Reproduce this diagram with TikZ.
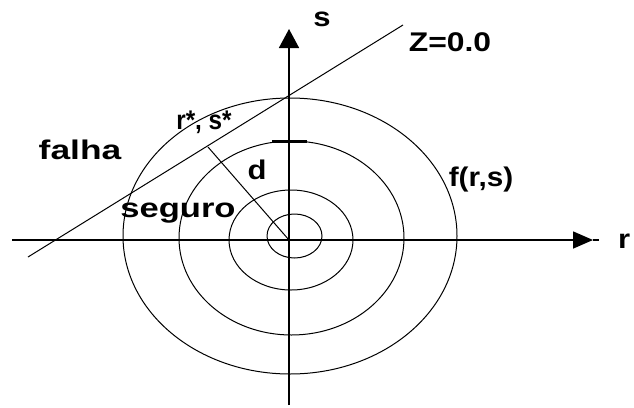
\documentclass[tikz,border=0pt]{standalone}
\usepackage{fontspec}
\setmainfont{Liberation Sans}
\usetikzlibrary{arrows.meta}
\newcommand{\wide}[2]{\scalebox{#1}[1]{#2}}
\begin{document}
\begin{tikzpicture}[x=1pt,y=-1pt,
  axisline/.style={line width=1.6pt},
  thinline/.style={line width=1pt},
  lbl/.style={font=\fontsize{27}{28}\selectfont\bfseries, inner sep=0pt}]
\useasboundingbox (0,0) rectangle (634,407);
% coordinates
\coordinate (O) at (289,240);
\coordinate (rstart) at (12,240);
\coordinate (rtip) at (593,240);
\coordinate (rend) at (599,240);
\coordinate (sbot) at (289,405);
\coordinate (stip) at (289,29);
\coordinate (zA) at (28,257);
\coordinate (zB) at (403,25);
\coordinate (foot) at (208,147);
\coordinate (tickL) at (272,141);
\coordinate (tickR) at (307,141);
% ellipses
\draw[thinline] (294.5,236) ellipse [x radius=27.5, y radius=22];
\draw[thinline] (291,240) ellipse [x radius=62, y radius=50];
\draw[thinline] (291.5,238) ellipse [x radius=112.5, y radius=97];
\draw[thinline] (290,236) ellipse [x radius=167, y radius=138];
% axes
\draw[axisline,-{Triangle[length=20pt,width=17pt]}] (rstart) -- (rtip);
\draw[axisline] (rtip) -- (rend);
\draw[axisline,-{Triangle[length=19pt,width=20pt]}] (sbot) -- (stip);
\draw[line width=3pt] (tickL) -- (tickR);
% limit state line and distance
\draw[thinline] (zA) -- (zB);
\draw[thinline] (O) -- (foot);
% labels
\node[lbl] (ls) at (322,19) {\wide{1.15}{s}};
\node[lbl, anchor=west] (lr) at (618,241) {\wide{1.15}{r}};
\node[lbl] (lz) at (450,42) {\wide{1.18}{Z=0.0}};
\node[lbl] (lf) at (80,150) {\wide{1.31}{falha}};
\node[lbl] (lrs) at (204,122) {\wide{0.9}{r*, s*}};
\node[lbl] (ld) at (257,170) {\wide{1.15}{d}};
\node[lbl] (lseg) at (178,213) {\wide{1.28}{seguro}};
\node[lbl] (lfrs) at (481,180) {\wide{1.1}{f(r,s)}};
\end{tikzpicture}
\end{document}
